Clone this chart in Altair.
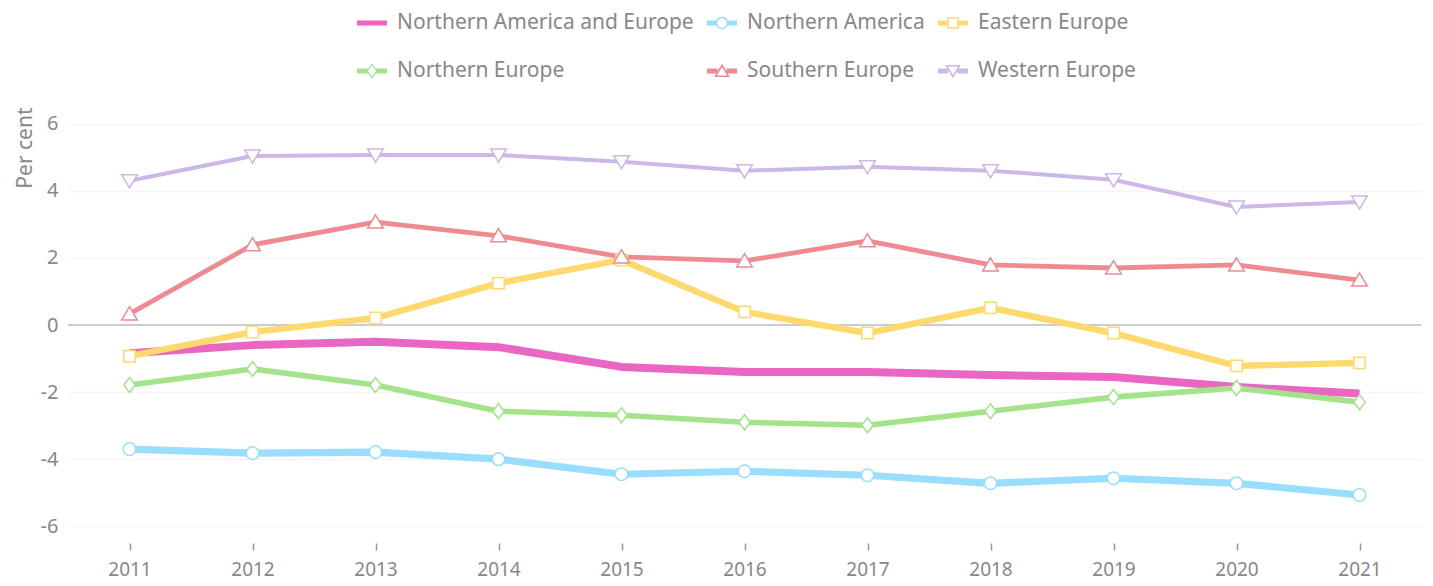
import altair as alt
import pandas as pd

years = ["2011", "2012", "2013", "2014", "2015", "2016", "2017", "2018", "2019", "2020", "2021"]
series_names = [
    "Northern America and Europe",
    "Northern America",
    "Eastern Europe",
    "Northern Europe",
    "Southern Europe",
    "Western Europe",
]
nae = [-0.84, -0.60, -0.50, -0.66, -1.25, -1.40, -1.40, -1.49, -1.55, -1.85, -2.04]
nam = [-3.70, -3.82, -3.79, -4.00, -4.45, -4.36, -4.48, -4.72, -4.57, -4.72, -5.07]
eeu = [-0.93, -0.21, 0.21, 1.25, 1.94, 0.39, -0.24, 0.51, -0.24, -1.22, -1.13]
neu = [-1.79, -1.31, -1.79, -2.57, -2.69, -2.90, -2.99, -2.57, -2.15, -1.88, -2.30]
seu = [0.33, 2.39, 3.07, 2.66, 2.03, 1.91, 2.51, 1.79, 1.70, 1.79, 1.34]
weu = [4.30, 5.04, 5.07, 5.07, 4.87, 4.60, 4.72, 4.60, 4.33, 3.52, 3.67]

colors = ["#E966C2", "#99DDFF", "#FFD96E", "#A3E48A", "#F08A92", "#CBB8E6"]
widths = [8, 4, 4, 4, 4, 4]

# marker outlines used on the chart (unit box -1..1)
marker_paths = [
    "M0,0Z",
    "M-0.42,0A0.42,0.42 0 1,1 0.42,0A0.42,0.42 0 1,1 -0.42,0Z",
    "M-0.38,-0.38H0.38V0.38H-0.38Z",
    "M0,-0.5L0.38,0L0,0.5L-0.38,0Z",
    "M0,-0.48L0.52,0.4L-0.52,0.4Z",
    "M0,0.48L-0.52,-0.4L0.52,-0.4Z",
]
# legend symbols: line segment + hollow marker ring
legend_paths = [
    "M-1,-0.17H1V0.17H-1Z",
    "M-1,-0.17H-0.35V0.17H-1Z M0.35,-0.17H1V0.17H0.35Z "
    "M-0.42,0A0.42,0.42 0 1,1 0.42,0A0.42,0.42 0 1,1 -0.42,0Z "
    "M-0.32,0A0.32,0.32 0 1,0 0.32,0A0.32,0.32 0 1,0 -0.32,0Z",
    "M-1,-0.17H-0.34V0.17H-1Z M0.34,-0.17H1V0.17H0.34Z "
    "M-0.38,-0.38H0.38V0.38H-0.38Z M-0.28,-0.28V0.28H0.28V-0.28Z",
    "M-1,-0.17H-0.3V0.17H-1Z M0.3,-0.17H1V0.17H0.3Z "
    "M0,-0.5L0.38,0L0,0.5L-0.38,0Z M0,-0.36L-0.27,0L0,0.36L0.27,0Z",
    "M-1,-0.17H-0.3V0.17H-1Z M0.3,-0.17H1V0.17H0.3Z "
    "M0,-0.48L0.52,0.4L-0.52,0.4Z M0,-0.27L-0.34,0.3L0.34,0.3Z",
    "M-1,-0.17H-0.3V0.17H-1Z M0.3,-0.17H1V0.17H0.3Z "
    "M0,0.48L-0.52,-0.4L0.52,-0.4Z M0,0.27L0.34,-0.3L-0.34,-0.3Z",
]

values = [nae, nam, eeu, neu, seu, weu]
rows = []
for name, vals in zip(series_names, values):
    for yr, v in zip(years, vals):
        rows.append({"Year": yr, "Series": name, "Value": v})
df = pd.DataFrame(rows)

FONT = "Noto Sans"
GREY = "#888888"

legend_props = dict(
    orient="none", legendX=289, legendY=-99, columns=3, direction="horizontal", title=None,
    symbolSize=900, symbolStrokeWidth=0, symbolOpacity=1,
    labelFont=FONT, labelFontSize=21, labelColor=GREY,
    columnPadding=13, rowPadding=23, labelOffset=10, labelLimit=400,
)

x_enc = alt.X("Year:O", title=None, sort=years,
              scale=alt.Scale(type="point", padding=0.5),
              axis=alt.Axis(labelAngle=0, domain=False, ticks=True, tickSize=7,
                            tickColor="#999999", tickWidth=1.5, labelPadding=10,
                            labelFont=FONT, labelFontSize=19, labelColor=GREY, grid=False))
y_enc = alt.Y("Value:Q", title="Per cent",
              scale=alt.Scale(domain=[-6.5, 6.5], nice=False, zero=False),
              axis=alt.Axis(values=[-6, -4, -2, 0, 2, 4, 6], domain=False, ticks=False,
                            labelExpr="'' + datum.value", labelPadding=10,
                            minExtent=30, maxExtent=30,
                            labelFont=FONT, labelFontSize=20, labelColor=GREY,
                            titleFont=FONT, titleFontSize=21, titleColor=GREY,
                            titleFontWeight="normal", titleAnchor="end", titlePadding=3,
                            grid=True, gridColor="#f4f4f4", gridWidth=1.5))

color_scale = alt.Scale(domain=series_names, range=colors)

base = alt.Chart(df)

zero = base.mark_rule(color="#cccccc", strokeWidth=2).encode(y=alt.datum(0))

lines = base.mark_line(strokeJoin="round").encode(
    x=x_enc,
    y=y_enc,
    color=alt.Color("Series:N", scale=color_scale, legend=None),
    strokeWidth=alt.StrokeWidth("Series:N", scale=alt.Scale(domain=series_names, range=widths), legend=None),
)

points = base.mark_point(filled=False, fill="white", opacity=1, strokeWidth=1.5, size=900).encode(
    x=x_enc,
    y=y_enc,
    color=alt.Color("Series:N", scale=color_scale, legend=None),
    shape=alt.Shape("Series:N", scale=alt.Scale(domain=series_names, range=marker_paths), legend=None),
)

legend_layer = base.mark_point(filled=True, opacity=0, size=900).encode(
    x=x_enc,
    y=y_enc,
    color=alt.Color("Series:N", scale=color_scale, legend=alt.Legend(**legend_props)),
    shape=alt.Shape("Series:N", scale=alt.Scale(domain=series_names, range=legend_paths),
                    legend=alt.Legend(**legend_props)),
)

chart = alt.layer(zero, lines, points, legend_layer).resolve_scale(
    color="independent", shape="independent"
).properties(
    width=1353, height=436,
    padding={"top": 0, "left": 6, "right": 0, "bottom": 4},
).configure_view(stroke=None)

chart.save("out.html", embed_options={"renderer": "svg", "actions": False})
